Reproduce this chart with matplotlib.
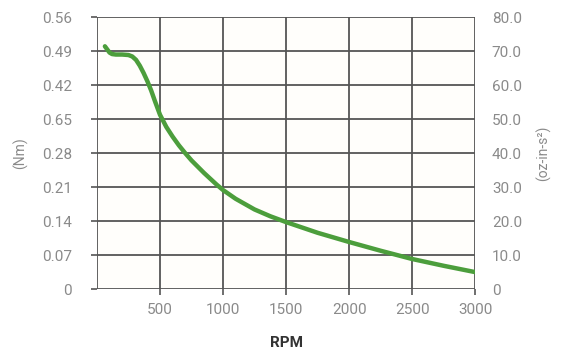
import matplotlib
matplotlib.use("Agg")
import matplotlib.pyplot as plt
import numpy as np

rpm = [63, 80, 100, 120, 150, 200, 250, 280, 310, 340, 370, 400, 430, 460, 500, 550,
       600, 650, 700, 750, 800, 850, 900, 950, 1000, 1100, 1250, 1375, 1500, 1625, 1750,
       2000, 2250, 2500, 2750, 3000]
torque = [0.500, 0.494, 0.487, 0.484, 0.483, 0.483, 0.482, 0.479, 0.472, 0.460, 0.445,
          0.428, 0.409, 0.387, 0.359, 0.334, 0.314, 0.296, 0.280, 0.265, 0.252, 0.239,
          0.227, 0.215, 0.204, 0.186, 0.164, 0.150, 0.138, 0.127, 0.116, 0.097, 0.079,
          0.062, 0.048, 0.035]
x_ticks = [500, 1000, 1500, 2000, 2500, 3000]
left_ticks = [0, 0.07, 0.14, 0.21, 0.28, 0.35, 0.42, 0.49, 0.56]
left_labels = ["0", "0.07", "0.14", "0.21", "0.28", "0.65", "0.42", "0.49", "0.56"]
right_labels = ["0", "10.0", "20.0", "30.0", "40.0", "50.0", "60.0", "70.0", "80.0"]

plt.rcParams['font.family'] = ["Roboto", "DejaVu Sans"]
tick_color = "#8a8a8a"
grid_color = "#555555"

fig = plt.figure(figsize=(5.67, 3.5), dpi=100)
ax = fig.add_axes([0.171, 0.174, 0.667, 0.777])
ax.set_xlim(0, 3000)
ax.set_ylim(0, 0.56)
ax.set_facecolor("#fffefb")

for x in range(0, 3001, 500):
    ax.axvline(x, color=grid_color, lw=1.3, zorder=1)
for y in left_ticks:
    ax.axhline(y, color=grid_color, lw=1.3, zorder=1)

ax.plot(rpm, torque, color="#4c9e3c", lw=3.2, solid_capstyle="round",
        solid_joinstyle="round", zorder=3)

ax.set_xticks(x_ticks)
ax.set_xticklabels([str(v) for v in x_ticks])
ax.set_yticks(left_ticks)
ax.set_yticklabels(left_labels)
ax.tick_params(axis="both", colors=grid_color, labelcolor=tick_color, labelsize=11,
               length=4, width=1.2)
ax.tick_params(axis="y", pad=14)
ax.tick_params(axis="x", pad=6)
for s in ax.spines.values():
    s.set_visible(False)

ax2 = ax.twinx()
ax2.set_ylim(0, 0.56)
ax2.set_yticks(left_ticks)
ax2.set_yticklabels(right_labels)
ax2.tick_params(axis="y", length=0, labelcolor=tick_color, labelsize=11, pad=12)
for s in ax2.spines.values():
    s.set_visible(False)

ax.set_xlabel("RPM", fontsize=11, fontweight="bold", color="#333333", labelpad=14)
ax.set_ylabel("(Nm)", fontsize=10, color=tick_color, labelpad=10)
ax2.set_ylabel("(oz-in-s²)", fontsize=10, color=tick_color, rotation=90, labelpad=10)

fig.savefig("out.png", dpi=100)
